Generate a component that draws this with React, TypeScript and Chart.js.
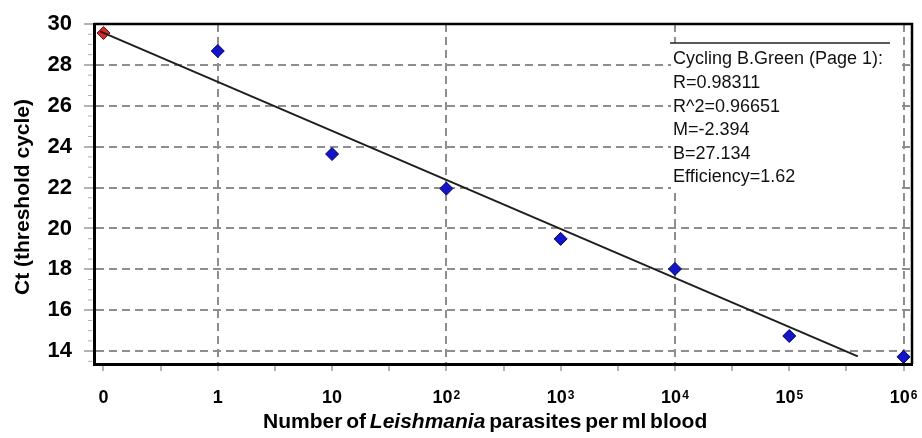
import React, { useEffect, useRef } from 'react';
import { Chart, registerables } from 'chart.js';

Chart.register(...registerables);

// ---- data ----
const tickBase = ['0', '1', '10', '10', '10', '10', '10', '10'];
const tickExp = ['', '', '', '2', '3', '4', '5', '6'];
const ctValues = [29.56, 28.68, 23.64, 21.95, 19.49, 18.02, 14.74, 13.72];
const fitX = [-0.03, 6.6];
const fitY = [29.64, 13.74];
const statsLines = [
  'Cycling B.Green (Page 1):',
  'R=0.98311',
  'R^2=0.96651',
  'M=-2.394',
  'B=27.134',
  'Efficiency=1.62',
];
const yTitle = 'Ct (threshold cycle)';
const xTitleParts = [
  { text: 'Number of ', italic: false },
  { text: 'Leishmania', italic: true },
  { text: ' parasites per ml blood', italic: false },
];

const FAMILY = "'Liberation Sans', Arial, Helvetica, sans-serif";

const decor = {
  id: 'decor',
  beforeDatasetsDraw(chart: any) {
    const { ctx } = chart;
    ctx.save();
    // stats box background
    ctx.fillStyle = '#ffffff';
    ctx.fillRect(671, 43, 228, 147);
    ctx.strokeStyle = '#222';
    ctx.lineWidth = 1.5;
    ctx.beginPath();
    ctx.moveTo(670, 43);
    ctx.lineTo(890, 43);
    ctx.stroke();
    ctx.fillStyle = '#111';
    ctx.font = `18px ${FAMILY}`;
    ctx.textAlign = 'left';
    ctx.textBaseline = 'middle';
    statsLines.forEach((t, i) => {
      ctx.fillText(t, 673, 59.5 + i * 23.6);
    });
    ctx.restore();
  },
  afterDraw(chart: any) {
    const { ctx, chartArea: a, scales } = chart;
    ctx.save();
    // top and right frame
    ctx.strokeStyle = '#000';
    ctx.lineWidth = 2.5;
    ctx.beginPath();
    ctx.moveTo(a.left, a.top);
    ctx.lineTo(a.right, a.top);
    ctx.lineTo(a.right, a.bottom);
    ctx.stroke();
    // minor y ticks
    const ys = scales.y;
    ctx.strokeStyle = '#b0b0b0';
    ctx.lineWidth = 1;
    for (let v = Math.ceil(ys.min / 0.5) * 0.5; v <= ys.max; v += 0.5) {
      if (Math.abs(v % 2) < 1e-9) continue;
      const py = ys.getPixelForValue(v);
      ctx.beginPath();
      ctx.moveTo(a.left - 6, py);
      ctx.lineTo(a.left - 2, py);
      ctx.stroke();
    }
    // x tick labels with superscript exponents
    const xs = scales.x;
    ctx.fillStyle = '#000';
    ctx.textAlign = 'left';
    ctx.textBaseline = 'alphabetic';
    tickBase.forEach((b, i) => {
      const e = tickExp[i];
      ctx.font = `bold 18px ${FAMILY}`;
      const wb = ctx.measureText(b).width;
      ctx.font = `bold 12px ${FAMILY}`;
      const we = e ? ctx.measureText(e).width + 1 : 0;
      const x0 = xs.getPixelForValue(i) - (wb + we) / 2;
      ctx.font = `bold 18px ${FAMILY}`;
      ctx.fillText(b, x0, 403);
      if (e) {
        ctx.font = `bold 12px ${FAMILY}`;
        ctx.fillText(e, x0 + wb + 1, 399);
      }
    });
    // y title
    ctx.font = `bold 21px ${FAMILY}`;
    ctx.translate(23, (a.top + a.bottom) / 2 + 3);
    ctx.rotate(-Math.PI / 2);
    ctx.textAlign = 'center';
    ctx.textBaseline = 'middle';
    ctx.fillText(yTitle, 0, 0);
    ctx.restore();

    // x title
    ctx.save();
    ctx.fillStyle = '#000';
    ctx.textAlign = 'left';
    ctx.textBaseline = 'alphabetic';
    try { (ctx as any).wordSpacing = '-2px'; } catch (e) {}
    let x = 263;
    xTitleParts.forEach((p) => {
      ctx.font = `${p.italic ? 'italic ' : ''}bold 21px ${FAMILY}`;
      ctx.fillText(p.text, x, 428);
      x += ctx.measureText(p.text).width;
    });
    ctx.restore();
  },
};

export default function App() {
  const ref = useRef<HTMLCanvasElement | null>(null);
  useEffect(() => {
    if (!ref.current) return;
    const chart = new Chart(ref.current, {
      type: 'scatter',
      data: {
        datasets: [
          {
            type: 'line',
            data: fitX.map((x, i) => ({ x, y: fitY[i] })),
            borderColor: '#1e1e1e',
            borderWidth: 2,
            pointRadius: 0,
            showLine: true,
            fill: false,
          } as any,
          {
            data: ctValues.map((y, i) => ({ x: i, y })),
            pointStyle: 'rectRot',
            pointRadius: 6.5,
            pointHoverRadius: 6.5,
            backgroundColor: (c: any) => (c.dataIndex === 0 ? '#d42a2a' : '#1414c8'),
            borderColor: (c: any) => (c.dataIndex === 0 ? '#7a1010' : '#000066'),
            borderWidth: 1,
          },
        ],
      },
      options: {
        animation: false,
        responsive: false,
        maintainAspectRatio: false,
        layout: { padding: { top: 24, right: 10, left: 0, bottom: 0 } },
        plugins: { legend: { display: false }, tooltip: { enabled: false } },
        scales: {
          x: {
            type: 'linear',
            min: -0.083,
            max: 7.074,
            afterFit: (s: any) => {
              s.height = 74;
              s.paddingLeft = 0;
              s.paddingRight = 0;
            },
            ticks: {
              display: false,
              stepSize: 0.5,
              autoSkip: false,
              maxRotation: 0,
              minRotation: 0,
              includeBounds: false,
            },
            grid: {
              color: (c: any) =>
                c.tick && Number.isInteger(c.tick.value) && c.tick.value % 2 === 1 ? '#8e8e8e' : 'rgba(0,0,0,0)',
              lineWidth: 2,
              tickColor: '#9a9a9a',
              tickLength: 7,
              tickWidth: 1.5,
            },
            border: { display: true, color: '#000', width: 3, dash: [8, 5] },
          },
          y: {
            type: 'linear',
            min: 13.37,
            max: 30,
            afterFit: (s: any) => {
              s.width = 94;
              s.paddingTop = 0;
              s.paddingBottom = 0;
            },
            ticks: {
              stepSize: 2,
              includeBounds: false,
              padding: 12,
              color: '#000',
              font: { family: FAMILY, size: 22, weight: 'bold' },
            },
            grid: {
              color: (c: any) => (c.tick && c.tick.value < 29.9 ? '#8e8e8e' : 'rgba(0,0,0,0)'),
              lineWidth: 2,
              tickColor: '#9a9a9a',
              tickLength: 10,
              tickWidth: 1.5,
            },
            border: { display: true, color: '#000', width: 3, dash: [8, 5] },
          },
        },
      },
      plugins: [decor],
    } as any);
    return () => chart.destroy();
  }, []);
  return (
    <div style={{ position: 'fixed', left: 0, top: 0, width: 922, height: 438, background: '#fff' }}>
      <canvas ref={ref} width={922} height={438} style={{ width: 922, height: 438 }} />
    </div>
  );
}
